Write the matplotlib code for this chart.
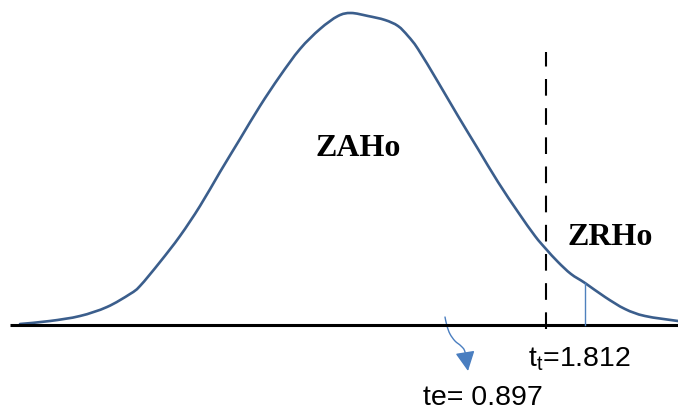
import numpy as np
import matplotlib
matplotlib.use("Agg")
import matplotlib.pyplot as plt
from matplotlib.patches import FancyArrowPatch, PathPatch
from matplotlib.path import Path

# Hand-drawn bell curve (x in px, height above baseline in px)
curve_x = [20, 50, 80, 107, 130, 140, 160, 180, 200, 220, 240, 260, 280, 300, 320,
           338, 351, 368, 385, 398, 408, 418, 438, 458, 478, 498, 518, 535, 546,
           558, 571, 585, 605, 625, 645, 678]
curve_h = [1, 4, 9, 18, 31, 39, 63, 89, 119, 153, 186, 219, 249, 276, 296,
           309, 312, 309, 305, 299, 289, 276, 243, 209, 176, 143, 113, 89, 76,
           63, 51, 42, 28, 16, 9, 4]

baseline_span = [10, 678]
t_table_x = 546          # dashed line, t_t = 1.812
t_table_top = 273
marker_x = 585           # thin blue line in the rejection zone
marker_top = 42

# curly arrow pointing at te
arrow_x = [445, 447, 450, 455, 461, 465, 468]
arrow_h = [8, -1, -9, -16, -21, -27, -46]

labels = {"zone_accept": "ZAHo", "zone_reject": "ZRHo",
          "t_table": r"$\mathregular{t_t}$=1.812", "t_calc": "te= 0.897"}


def smooth_path(xs, ys):
    """Cubic bezier path through the points (Catmull-Rom tangents)"""
    pts = np.column_stack([xs, ys]).astype(float)
    verts = [pts[0]]
    codes = [Path.MOVETO]
    n = len(pts)
    for i in range(n - 1):
        p0 = pts[max(i - 1, 0)]
        p1 = pts[i]
        p2 = pts[i + 1]
        p3 = pts[min(i + 2, n - 1)]
        verts += [p1 + (p2 - p0) / 6, p2 - (p3 - p1) / 6, p2]
        codes += [Path.CURVE4] * 3
    return Path(verts, codes)


fig = plt.figure(figsize=(6.78, 4.10), dpi=100)
ax = fig.add_axes([0, 0, 1, 1])
ax.set_xlim(0, 678)
ax.set_ylim(-84, 326)
ax.axis("off")

ax.add_patch(PathPatch(smooth_path(curve_x, curve_h), fill=False,
                       edgecolor="#3B5E8C", lw=1.9, capstyle="round"))
ax.plot(baseline_span, [0, 0], color="black", lw=2.2, solid_capstyle="butt")
ax.plot([t_table_x, t_table_x], [-4, t_table_top], color="black", lw=1.5,
        dashes=(8, 6))
ax.plot([marker_x, marker_x], [0, marker_top], color="#4F81BD", lw=1.0)

arr = FancyArrowPatch(path=smooth_path(arrow_x, arrow_h), arrowstyle="-|>",
                      mutation_scale=30, color="#4A7EC0", lw=1.0,
                      shrinkA=0, shrinkB=0)
ax.add_patch(arr)

serif_bold = dict(family="Liberation Serif", weight="bold", fontsize=23)
ax.text(358, 178, labels["zone_accept"], ha="center", va="center", **serif_bold)
ax.text(610, 88, labels["zone_reject"], ha="center", va="center", **serif_bold)

plt.rcParams["mathtext.fontset"] = "custom"
sans = dict(family="Liberation Sans", fontsize=20.5)
ax.text(528, -41, labels["t_table"], ha="left", va="baseline", **sans)
ax.text(423, -79, labels["t_calc"], ha="left", va="baseline", **sans)

fig.savefig("out.png", dpi=100)
plt.close(fig)
